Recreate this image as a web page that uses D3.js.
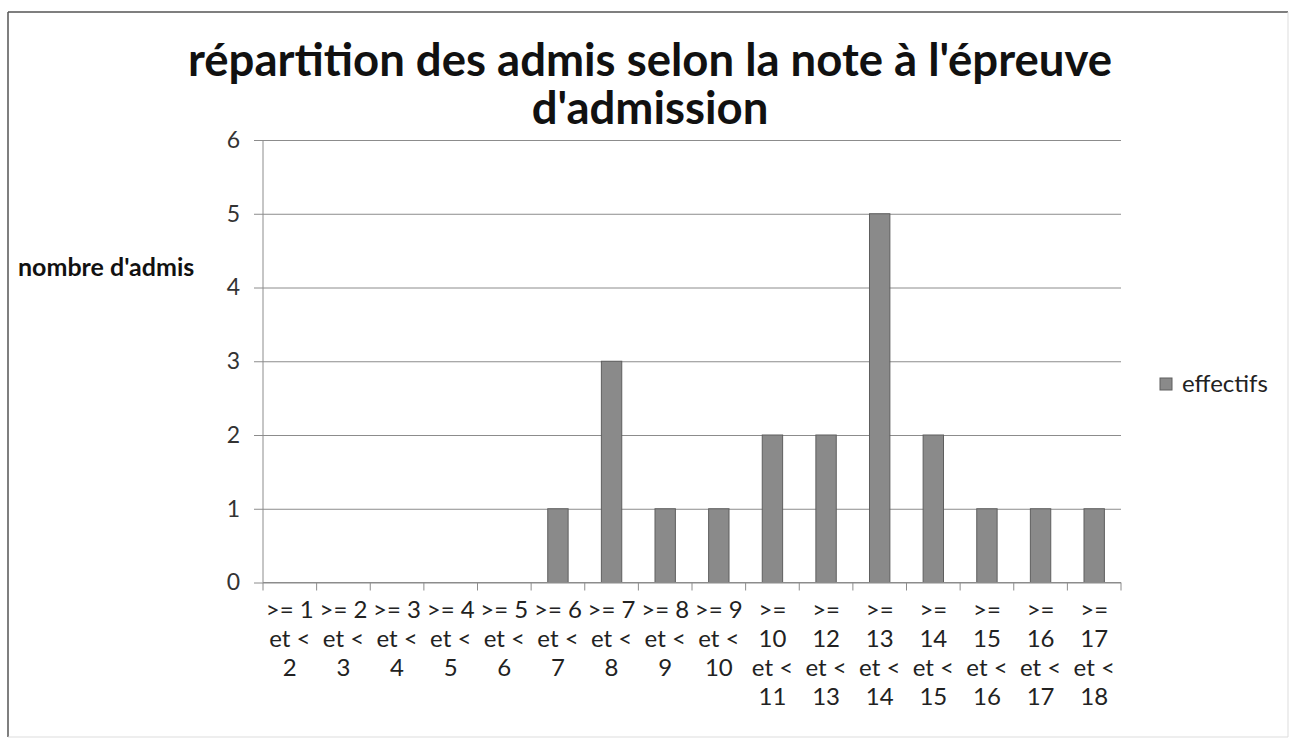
<!DOCTYPE html>
<html>
<head>
<meta charset="utf-8">
<script src="https://cdn.jsdelivr.net/npm/d3@7"></script>
<style>
  body { margin: 0; background: #fff; }
  svg { display: block; font-family: Lato, "Noto Sans", sans-serif; }
</style>
</head>
<body>
<div id="chart"></div>
<script>
// data
const categories = [
  ">= 1 et < 2", ">= 2 et < 3", ">= 3 et < 4", ">= 4 et < 5", ">= 5 et < 6",
  ">= 6 et < 7", ">= 7 et < 8", ">= 8 et < 9", ">= 9 et < 10", ">= 10 et < 11",
  ">= 12 et < 13", ">= 13 et < 14", ">= 14 et < 15", ">= 15 et < 16",
  ">= 16 et < 17", ">= 17 et < 18"
];
// how each label wraps in the picture
const labelLines = [
  [">= 1", "et <", "2"], [">= 2", "et <", "3"], [">= 3", "et <", "4"],
  [">= 4", "et <", "5"], [">= 5", "et <", "6"], [">= 6", "et <", "7"],
  [">= 7", "et <", "8"], [">= 8", "et <", "9"], [">= 9", "et <", "10"],
  [">=", "10", "et <", "11"], [">=", "12", "et <", "13"], [">=", "13", "et <", "14"],
  [">=", "14", "et <", "15"], [">=", "15", "et <", "16"], [">=", "16", "et <", "17"],
  [">=", "17", "et <", "18"]
];
const effectifs = [0, 0, 0, 0, 0, 1, 3, 1, 1, 2, 2, 5, 2, 1, 1, 1];
const yTicks = [0, 1, 2, 3, 4, 5, 6];
const seriesName = "effectifs";
const titleLines = ["répartition des admis selon la note à l'épreuve", "d'admission"];
const yTitle = "nombre d'admis";

const W = 1295, H = 747;
const plot = { left: 263, right: 1121, top: 140, bottom: 582.5 };

const svg = d3.select("#chart").append("svg")
  .attr("width", W).attr("height", H);

svg.append("rect").attr("width", W).attr("height", H).attr("fill", "#fff");

// outer frame (dark top/left, faint right/bottom like the scan)
svg.append("line").attr("x1", 8).attr("x2", 1288).attr("y1", 12).attr("y2", 12)
  .attr("stroke", "#555").attr("stroke-width", 1.5);
svg.append("line").attr("x1", 8).attr("x2", 8).attr("y1", 12).attr("y2", 737)
  .attr("stroke", "#555").attr("stroke-width", 1.5);
svg.append("line").attr("x1", 1288).attr("x2", 1288).attr("y1", 12).attr("y2", 737)
  .attr("stroke", "#ddd").attr("stroke-width", 1);
svg.append("line").attr("x1", 8).attr("x2", 1288).attr("y1", 737).attr("y2", 737)
  .attr("stroke", "#ddd").attr("stroke-width", 1);

// title
const title = svg.append("text")
  .attr("text-anchor", "middle")
  .attr("font-weight", "bold")
  .attr("font-size", 45.5)
  .attr("fill", "#111");
title.selectAll("tspan").data(titleLines).join("tspan")
  .attr("x", 650)
  .attr("y", (d, i) => 76 + i * 48)
  .text(d => d);

const x = d3.scaleBand().domain(categories)
  .range([plot.left, plot.right]).paddingInner(0.62).paddingOuter(0.31);
const xEdges = d3.scaleBand().domain(categories).range([plot.left, plot.right]);
const y = d3.scaleLinear().domain([0, 6]).range([plot.bottom, plot.top]);

// gridlines + y axis
const yAxis = svg.append("g")
  .attr("transform", `translate(${plot.left},0)`)
  .call(d3.axisLeft(y).tickValues(yTicks).tickFormat(d3.format("d"))
    .tickSize(-(plot.right - plot.left)).tickPadding(23));
yAxis.select(".domain").remove();
yAxis.selectAll(".tick line").attr("stroke", "#8c8c8c").attr("x1", -9);
yAxis.selectAll(".tick text")
  .attr("font-family", "Lato, sans-serif").attr("font-size", 23).attr("fill", "#333");

svg.append("line")
  .attr("x1", plot.left).attr("x2", plot.left)
  .attr("y1", plot.top).attr("y2", plot.bottom)
  .attr("stroke", "#8c8c8c");

// bars
svg.append("g").selectAll("rect").data(effectifs).join("rect")
  .attr("x", (d, i) => x(categories[i]))
  .attr("y", d => y(d))
  .attr("width", x.bandwidth())
  .attr("height", d => y(0) - y(d))
  .attr("fill", "#8a8a8a")
  .attr("stroke", "#5e5e5e")
  .attr("stroke-width", 1);

// x axis line and boundary ticks
const edges = categories.map(c => xEdges(c)).concat([plot.right]);
svg.append("line")
  .attr("x1", plot.left).attr("x2", plot.right)
  .attr("y1", plot.bottom).attr("y2", plot.bottom)
  .attr("stroke", "#8c8c8c");
svg.append("g").selectAll("line").data(edges).join("line")
  .attr("x1", d => d).attr("x2", d => d)
  .attr("y1", plot.bottom).attr("y2", plot.bottom + 8)
  .attr("stroke", "#8c8c8c");

// x labels, wrapped like the original
const labels = svg.append("g")
  .attr("font-size", 24).attr("fill", "#222").attr("text-anchor", "middle");
labels.selectAll("text").data(labelLines).join("text")
  .attr("transform", (d, i) => `translate(${xEdges(categories[i]) + xEdges.bandwidth() / 2},0)`)
  .selectAll("tspan").data(d => d).join("tspan")
  .attr("x", 0)
  .attr("y", (d, j) => 618 + j * 29)
  .text(d => d);

// y title
svg.append("text")
  .attr("x", 18).attr("y", 276)
  .attr("font-weight", "bold").attr("font-size", 25).attr("fill", "#111")
  .text(yTitle);

// legend
svg.append("rect")
  .attr("x", 1160).attr("y", 378).attr("width", 12).attr("height", 12)
  .attr("fill", "#8a8a8a").attr("stroke", "#5e5e5e");
svg.append("text")
  .attr("x", 1182).attr("y", 392)
  .attr("font-size", 24).attr("fill", "#222")
  .text(seriesName);
</script>
</body>
</html>
